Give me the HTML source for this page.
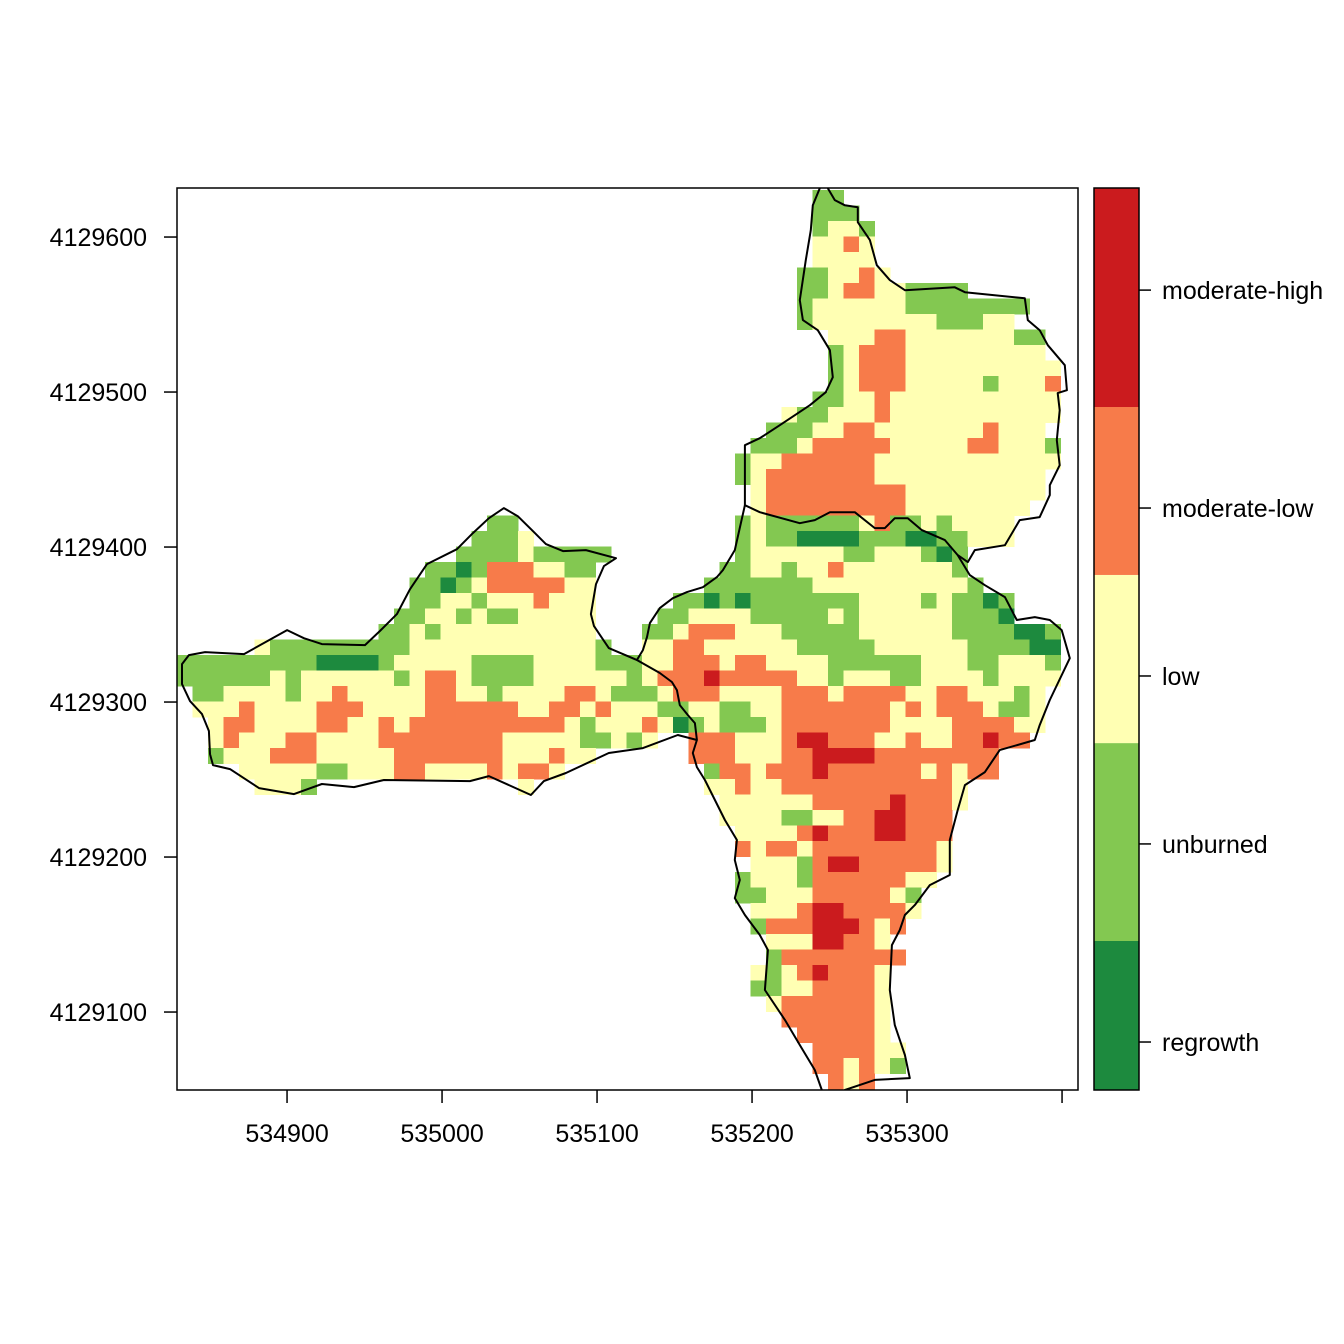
<!DOCTYPE html>
<html><head><meta charset="utf-8"><style>
html,body{margin:0;padding:0;background:#fff;}
svg{display:block;}
text{font-family:"Liberation Sans",Arial,sans-serif;font-size:25px;fill:#000;}
</style></head><body>
<svg id="chart" width="1344" height="1344" viewBox="0 0 1344 1344">
<defs><clipPath id="plotclip"><rect x="177" y="188" width="901" height="902"/></clipPath></defs>
<g id="cells" clip-path="url(#plotclip)" shape-rendering="crispEdges"></g>
<g id="outline" clip-path="url(#plotclip)"></g>
<rect x="177" y="188" width="901" height="902" fill="none" stroke="#000" stroke-width="1.5"/>
<g id="xaxis"></g>
<g id="yaxis"></g>
<g id="legend"></g>
</svg>
<script>
// ---- data ----
const xMin = 534829, yMin = 4129049.7;      // plot extent origin (m)
const rasterTop = 590.6;                      // metres above yMin of raster top edge
const cellSize = 10;
const classNames = ["regrowth","unburned","low","moderate-low","moderate-high"];
const classColors = ["#1d8a3e","#83c851","#ffffb3","#f77b4a","#cb1b1e"];
const legendBreaks = [-0.5,0.326,1.423,2.355,3.286,4.5];
const legendLabelValues = [-0.234,0.864,1.795,2.726,3.934];
const xTicks = [534900,535000,535100,535200,535300,535400];
const xTickLabels = ["534900","535000","535100","535200","535300",""];
const yTicks = [4129100,4129200,4129300,4129400,4129500,4129600];
const yTickLabels = ["4129100","4129200","4129300","4129400","4129500","4129600"];
// raster rows (top to bottom): "colStart-colEnd:class" (1=regrowth..5=moderate-high)
const cellRuns = [
"",
"41-42:2",
"41-43:2",
"41:2,42-43:3,44:2",
"41-42:3,43:4,44:3",
"41-44:3",
"40-41:2,42-43:3,44:4,45:3",
"40-41:2,42:3,43-44:4,45-46:3,47-50:2",
"40:2,41-46:3,47-54:2",
"40:2,41-48:3,49-51:2,52-53:3",
"42-44:3,45-46:4,47-53:3,54-55:2",
"42:2,43:3,44-46:4,47-55:3",
"42:2,43:3,44-46:4,47-56:3",
"42:2,43:3,44-46:4,47-51:3,52:2,53-55:3,56:4",
"41-42:2,43-44:3,45:4,46-56:3",
"39:3,40-41:2,42-44:3,45:4,46-56:3",
"38-40:2,41-42:3,43-44:4,45-51:3,52:4,53-55:3",
"37-39:2,40:3,41-45:4,46-50:3,51-52:4,53-55:3,56:2",
"36:2,37-38:3,39-44:4,45-56:3",
"36:2,37:3,38-44:4,45-55:3",
"37:3,38-46:4,47-55:3",
"37:3,38-46:4,47-54:3",
"20-21:2,36:2,37:3,38-43:2,44:3,45:4,46-47:2,48:3,49:2,50-53:3",
"19-21:2,22:3,36:2,37:3,38-39:2,40-43:1,44-46:2,47-48:1,49-50:2,51-53:3",
"18-21:2,22:3,23-27:2,36:2,37-42:3,43-44:2,45-47:3,48:2,49:1,50:2",
"16-17:2,18:1,19:2,20-22:4,23-24:3,25-26:2,35-36:2,37-38:3,39:2,40-41:3,42:4,43-49:3,50:2",
"15-16:2,17:1,18:2,19:3,20-24:4,25-26:3,34-40:2,41-50:3,51:2",
"15-16:2,17-18:3,19:2,20-22:3,23:4,24-26:3,32-33:2,34:1,35:2,36:1,37-43:2,44-47:3,48:2,49:3,50-51:2,52:1,53:2",
"14-15:2,16-17:3,18:2,19:3,20-21:2,22-26:3,31-32:2,33-36:3,37-41:2,42:3,43:2,44-49:3,50-52:2,53:1",
"13-14:2,15:3,16:2,17-26:3,30-31:2,32:3,33-35:4,36-38:3,39-43:2,44-49:3,50-53:2,54-55:1,56:2",
"5:3,6-14:2,15-26:3,27:2,30-31:3,32-33:4,34-39:3,40-44:2,45-50:3,51-54:2,55-56:1",
"0-8:2,9-12:1,13:2,14-18:3,19-22:2,23-26:3,27-29:2,30-31:3,32-34:4,35:3,36-37:4,38-41:3,42-47:2,48-50:3,51-52:2,53-55:3,56:2",
"0-5:2,6:3,7:2,8-13:3,14:2,15:3,16-17:4,18:3,19-22:2,23-28:3,29:2,30:3,31-33:4,34:5,35-39:4,40-41:3,42:2,43-45:3,46-47:2,48-51:3,52:2,53-56:3",
"1-2:2,3-6:3,7:2,8-9:3,10:4,11-15:3,16-17:4,18-19:3,20:2,21-24:3,25-26:4,27:3,28-30:2,31:3,32-34:4,35-38:3,39-41:4,42:3,43-46:4,47-48:3,49-50:4,51-53:3,54:2,55:3",
"1-3:3,4:4,5-8:3,9-11:4,12-15:3,16-21:4,22-23:3,24-25:4,26:3,27:4,28-30:3,31-32:2,33-34:3,35-36:2,37-38:3,39-45:4,46:3,47:4,48:3,49-51:4,52:3,53-54:2,55:3",
"2:3,3-4:4,5-8:3,9-10:4,11-12:3,13:4,14:3,15-24:4,25:3,26:2,27-29:3,30:4,31:3,32:1,33:2,34:3,35-37:2,38:3,39-45:4,46-49:3,50-53:4,54-55:3",
"2:3,3:4,4-6:3,7-8:4,9-12:3,13-20:4,21-25:3,26-27:2,28:3,29:2,30:3,33-35:4,36-38:3,39:4,40-41:5,42-44:4,45-46:3,47:4,48-49:3,50-51:4,52:5,53-54:4",
"2:2,3-5:3,6-8:4,9-13:3,14-20:4,21-23:3,24:4,25-26:3,33-35:4,36-38:3,39-40:4,41-44:5,45-52:4",
"4-8:3,9-10:2,11-13:3,14-15:4,16-19:3,20:4,21:3,22-23:4,24:3,34:2,35-36:4,37:3,38-40:4,41:5,42-47:4,48:3,49:4,50:3,51-52:4",
"5-7:3,8:2,22:3,34-35:3,36:4,37-38:3,39-49:4,50:3",
"35-40:3,41-45:4,46:5,47-49:4,50:3",
"35-38:3,39-40:2,41-42:3,43-44:4,45-46:5,47-49:4",
"36-39:3,40:4,41:5,42-44:4,45-46:5,47-49:4",
"36:4,37:3,38-39:4,40:3,41-48:4,49:3",
"37-39:3,40:2,41:4,42-43:5,44-48:4,49:3",
"36:2,37-39:3,40:2,41-46:4,47-48:3",
"36-37:2,38-40:3,41-45:4,46:3,47:2",
"37-39:3,40:4,41-42:5,43-46:4,47:3",
"37:2,38-40:4,41-43:5,44:4,45:3,46:4",
"38-40:3,41-42:5,43-44:4,45:3",
"38:2,39-46:4",
"37:3,38:2,39:3,40:4,41:5,42-44:4,45:3",
"37-38:2,39-40:3,41-44:4,45:3",
"38:3,39-44:4,45:3",
"39-44:4,45:3",
"40-44:4,45:3",
"41-44:4,45-46:3",
"41-42:4,43:3,44:4,45:3,46:2",
"42:4,43:3,44:4"
];
// perimeter vertices, metres east of xMin / north of yMin
const upperLobeU = [414.7,410.2,408.9,405.7,401.8,403.8,413.4,421.2,423.1,418.6,408.3,388.9,376.0,366.4,366.4,366.4,376.0,401.8,411.5,421.2,437.3,450.2,456.7,463.1,471.5,480.5,495.4,503.7,510.2,514.7,534.1,543.7,556.6,563.1,563.1,569.5,567.6,569.5,568.2,574.1,572.8,561.8,556.6,548.9,547.0,508.3,501.8,469.6,459.9,451.5,447.0,439.2,439.2,430.9,424.4,419.9];
const upperLobeV = [581.8,570.8,554.7,535.4,509.6,496.7,490.2,477.3,459.9,450.2,441.8,428.9,420.5,416.0,399.9,377.3,372.8,365.7,367.7,372.8,372.8,362.5,362.5,368.9,368.9,361.2,354.8,345.1,340.6,348.3,351.5,367.7,369.6,383.8,390.2,403.1,419.3,438.6,449.6,451.5,467.6,480.5,490.2,496.7,510.8,514.7,517.9,516.0,522.5,532.1,548.3,559.9,569.5,570.8,574.1,581.8];
const southLobeU = [366.4,359.9,352.2,348.3,339.3,329.0,319.9,311.5,305.1,303.2,300.6,296.7,311.5,319.3,322.5,324.4,329.6,334.1,335.4,332.8,335.4,340.6,347.0,353.5,361.2,359.9,363.1,359.9,366.4,376.0,381.2,379.3,392.2,401.8,411.5,416.0,423.0,430.9,450.2,472.8,469.6,466.3,463.1,459.9,461.2,466.3,469.6,476.0,485.7,498.6,498.6,503.7,508.3,521.2,530.8,553.4,556.6,563.1,576.0,570.8,563.1,553.4,541.8,534.1,521.2,511.5,503.7];
const southLobeV = [377.3,348.3,335.4,330.9,324.4,321.2,317.3,310.9,301.2,292.2,283.8,277.4,269.0,263.2,258.0,248.3,241.9,236.7,225.8,217.4,208.3,200.0,187.1,174.2,161.3,148.4,135.5,123.8,112.9,100.0,90.3,64.5,45.2,29.0,12.9,0,-8,0,6.5,7.7,22.6,32.3,41.9,64.5,93.5,103.2,112.9,119.3,132.2,138.7,161.3,180.6,196.7,205.1,219.3,225.8,235.4,251.6,278.6,296.7,303.2,305.1,303.2,318.0,325.7,332.2,345.1];
const westLobeU = [296.7,287.7,278.6,269.0,267.0,270.3,275.4,283.2,263.8,249.0,238.0,229.6,219.9,210.9,201.2,190.9,180.6,161.3,150.3,141.9,130.9,121.3,93.5,81.9,71.0,43.2,18.1,7.7,3.2,3.2,8.4,16.1,20.6,21.3,23.2,34.2,52.9,75.5,93.5,114.2,133.5,189.0,201.2,228.3,236.7,250.9,278.6,300.6,323.1,335.4];
const westLobeV = [277.4,281.2,285.1,299.3,307.0,326.4,338.0,343.1,348.3,347.7,352.2,360.6,370.2,375.4,368.9,359.3,348.9,339.3,323.1,307.0,296.1,287.0,287.7,291.5,296.7,281.2,282.5,280.6,274.8,261.9,250.9,242.5,231.6,216.7,209.6,207.0,194.8,190.9,197.4,195.4,200.0,199.3,202.5,190.3,199.3,204.5,217.4,220.6,229.0,225.8];

// ---- scales ----
const PX = 1.55;
const xScale = e => 177 + (e - xMin) * PX;
const yScale = n => 1090 - (n - yMin) * PX;
const NS = "http://www.w3.org/2000/svg";
function mk(tag, attrs, parent){const el=document.createElementNS(NS,tag);for(const k in attrs)el.setAttribute(k,attrs[k]);parent.appendChild(el);return el;}

// ---- raster ----
const gCells = document.getElementById("cells");
cellRuns.forEach((row, i) => {
  if(!row) return;
  row.split(",").forEach(tok => {
    const [rng, v] = tok.split(":");
    const parts = rng.split("-").map(Number);
    const c0 = parts[0], c1 = parts.length > 1 ? parts[1] : parts[0];
    const cls = +v - 1;
    const x0 = xScale(xMin + c0 * cellSize), x1 = xScale(xMin + (c1 + 1) * cellSize);
    const y0 = yScale(yMin + rasterTop - i * cellSize), y1 = yScale(yMin + rasterTop - (i + 1) * cellSize);
    const r = mk("rect", {x:x0, y:y0, width:x1-x0+0.4, height:y1-y0+0.4, fill:classColors[cls]}, gCells);
    
    
  });
});

// ---- outline ----
const gOut = document.getElementById("outline");
function drawLine(us, vs, name){
  const pts = us.map((u, k) => xScale(xMin + u).toFixed(1) + "," + yScale(yMin + vs[k]).toFixed(1)).join(" ");
  const p = mk("polyline", {points:pts, fill:"none", stroke:"#000", "stroke-width":2, "stroke-linejoin":"round"}, gOut);
  
  
}
drawLine(upperLobeU, upperLobeV, "perimeter-north-lobe");
drawLine(southLobeU, southLobeV, "perimeter-south-lobe");
drawLine(westLobeU, westLobeV, "perimeter-west-lobe");

// ---- axes ----
const gx = document.getElementById("xaxis");
xTicks.forEach((t, k) => {
  const x = xScale(t);
  const l = mk("line", {x1:x, x2:x, y1:1090, y2:1103, stroke:"#000", "stroke-width":1.5}, gx);
  
  
  if(xTickLabels[k]){
    const tx = mk("text", {x:x, y:1142, "text-anchor":"middle"}, gx);
    tx.textContent = xTickLabels[k];
    
    
  }
});
const gy = document.getElementById("yaxis");
yTicks.forEach((t, k) => {
  const y = yScale(t);
  const l = mk("line", {x1:164, x2:177, y1:y, y2:y, stroke:"#000", "stroke-width":1.5}, gy);
  
  
  const tx = mk("text", {x:147, y:y+9, "text-anchor":"end"}, gy);
  tx.textContent = yTickLabels[k];
  
  
});

// ---- colorbar ----
const gl = document.getElementById("legend");
const lb0 = legendBreaks[0], lb1 = legendBreaks[legendBreaks.length-1];
const lScale = v => 1090 - (v - lb0) / (lb1 - lb0) * 902;
classNames.forEach((n, k) => {
  const yTop = lScale(legendBreaks[k+1]), yBot = lScale(legendBreaks[k]);
  const r = mk("rect", {x:1094, y:yTop, width:45, height:yBot-yTop, fill:classColors[k]}, gl);
  
  
  const ly = lScale(legendLabelValues[k]);
  const t = mk("line", {x1:1139, x2:1151, y1:ly, y2:ly, stroke:"#000", "stroke-width":1.5}, gl);
  
  
  const tx = mk("text", {x:1162, y:ly+9}, gl);
  tx.textContent = n;
  
  
});
const fr = mk("rect", {x:1094, y:188, width:45, height:902, fill:"none", stroke:"#000", "stroke-width":1.5}, gl);


</script>
</body></html>
